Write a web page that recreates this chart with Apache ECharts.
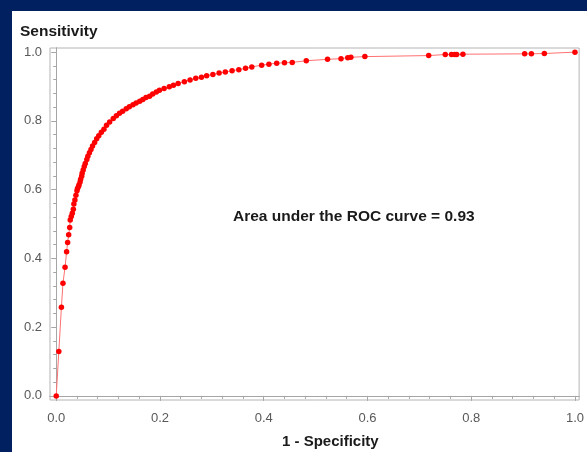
<!DOCTYPE html>
<html>
<head>
<meta charset="utf-8">
<script src="https://cdn.jsdelivr.net/npm/echarts@6/dist/echarts.min.js"></script>
<style>
html,body{margin:0;padding:0;background:#012060;width:587px;height:452px;overflow:hidden;}
#panel{position:absolute;left:12px;top:11px;width:575px;height:441px;background:#ffffff;}
#chart{position:absolute;left:0;top:0;width:587px;height:452px;}
</style>
</head>
<body>
<div id="panel"></div>
<div id="chart"></div>
<script>
// 1 - Specificity values
const fpr = [0, 0.005, 0.010, 0.013, 0.017, 0.020, 0.022, 0.024, 0.026, 0.027, 0.029, 0.031, 0.033, 0.034, 0.036, 0.038,
  0.040, 0.041, 0.043, 0.044, 0.046, 0.047, 0.049, 0.050, 0.052, 0.054, 0.056, 0.059, 0.061, 0.064, 0.067, 0.070,
  0.074, 0.078, 0.082, 0.087, 0.092, 0.097, 0.103, 0.110, 0.116, 0.122, 0.128, 0.135, 0.141, 0.148, 0.154, 0.161,
  0.167, 0.173, 0.180, 0.186, 0.193, 0.199, 0.208, 0.218, 0.226, 0.235, 0.247, 0.258, 0.269, 0.280, 0.290, 0.302,
  0.314, 0.326, 0.339, 0.352, 0.365, 0.377, 0.396, 0.410, 0.425, 0.440, 0.455, 0.482, 0.523, 0.549, 0.562, 0.568,
  0.595, 0.718, 0.750, 0.762, 0.768, 0.772, 0.784, 0.903, 0.916, 0.941, 1.000];
// Sensitivity values
const tpr = [0, 0.129, 0.258, 0.328, 0.374, 0.419, 0.446, 0.469, 0.490, 0.512, 0.522, 0.531, 0.543, 0.558, 0.570, 0.584,
  0.597, 0.603, 0.609, 0.614, 0.622, 0.630, 0.639, 0.648, 0.657, 0.667, 0.676, 0.688, 0.697, 0.707, 0.717, 0.727,
  0.737, 0.748, 0.757, 0.767, 0.776, 0.787, 0.797, 0.807, 0.815, 0.822, 0.828, 0.835, 0.841, 0.847, 0.852, 0.857,
  0.862, 0.868, 0.872, 0.878, 0.884, 0.889, 0.894, 0.899, 0.904, 0.909, 0.914, 0.919, 0.924, 0.927, 0.931, 0.935,
  0.939, 0.942, 0.946, 0.949, 0.953, 0.957, 0.962, 0.965, 0.968, 0.969, 0.970, 0.975, 0.979, 0.981, 0.984, 0.985,
  0.987, 0.990, 0.993, 0.993, 0.993, 0.993, 0.994, 0.995, 0.995, 0.996, 1.000];
const majorTicks = [0, 0.2, 0.4, 0.6, 0.8, 1.0];
const minorTicks = [0.04, 0.08, 0.12, 0.16, 0.24, 0.28, 0.32, 0.36, 0.44, 0.48, 0.52, 0.56, 0.64, 0.68, 0.72, 0.76, 0.84, 0.88, 0.92, 0.96];
const xTitle = '1 - Specificity';
const yTitle = 'Sensitivity';
const note = 'Area under the ROC curve = 0.93';

const points = fpr.map((x, i) => [x, tpr[i]]);
const axisGray = '#a6a6a6';
const labelGray = '#595959';
const FONT = 'Liberation Sans';

function makeAxis(type, values, len, showLabel) {
  return {
    type: 'value', min: -0.012, max: type === 'x' ? 1.008 : 1.012,
    position: type === 'x' ? 'bottom' : 'left',
    axisLine: { show: true, lineStyle: { color: axisGray, width: 1 } },
    axisTick: { show: true, customValues: values, length: len, inside: false, lineStyle: { color: axisGray, width: 1 } },
    axisLabel: showLabel ? {
      show: true, customValues: values, color: labelGray, fontFamily: FONT, fontSize: 13,
      margin: type === 'x' ? 12 : 8,
      formatter: v => v.toFixed(1)
    } : { show: false },
    splitLine: { show: false }
  };
}

const chart = echarts.init(document.getElementById('chart'), null, { renderer: 'canvas' });
chart.setOption({
  backgroundColor: 'transparent',
  animation: false,
  grid: { left: 50, right: 4, top: 48, bottom: 52, show: true, borderColor: '#b4b4b4', borderWidth: 1, backgroundColor: 'transparent' },
  xAxis: [makeAxis('x', majorTicks, 5, true), makeAxis('x', minorTicks, 3, false)],
  yAxis: [makeAxis('y', majorTicks, 5, true), makeAxis('y', minorTicks, 3, false)],
  series: [{
    type: 'line', data: points, xAxisIndex: 0, yAxisIndex: 0,
    symbol: 'circle', symbolSize: 5.5, showSymbol: true,
    lineStyle: { color: '#ff7070', width: 1 },
    itemStyle: { color: '#ff0000', borderWidth: 0 }
  }],
  graphic: [
    { type: 'text', left: 20, top: 24, style: { text: yTitle, font: 'bold 15.5px "' + FONT + '"', fill: '#1a1a1a' } },
    { type: 'text', left: 282, top: 434, style: { text: xTitle, font: 'bold 15px "' + FONT + '"', fill: '#1a1a1a' } },
    { type: 'text', left: 233, top: 209, style: { text: note, font: 'bold 15.5px "' + FONT + '"', fill: '#1a1a1a' } }
  ]
});
</script>
</body>
</html>
